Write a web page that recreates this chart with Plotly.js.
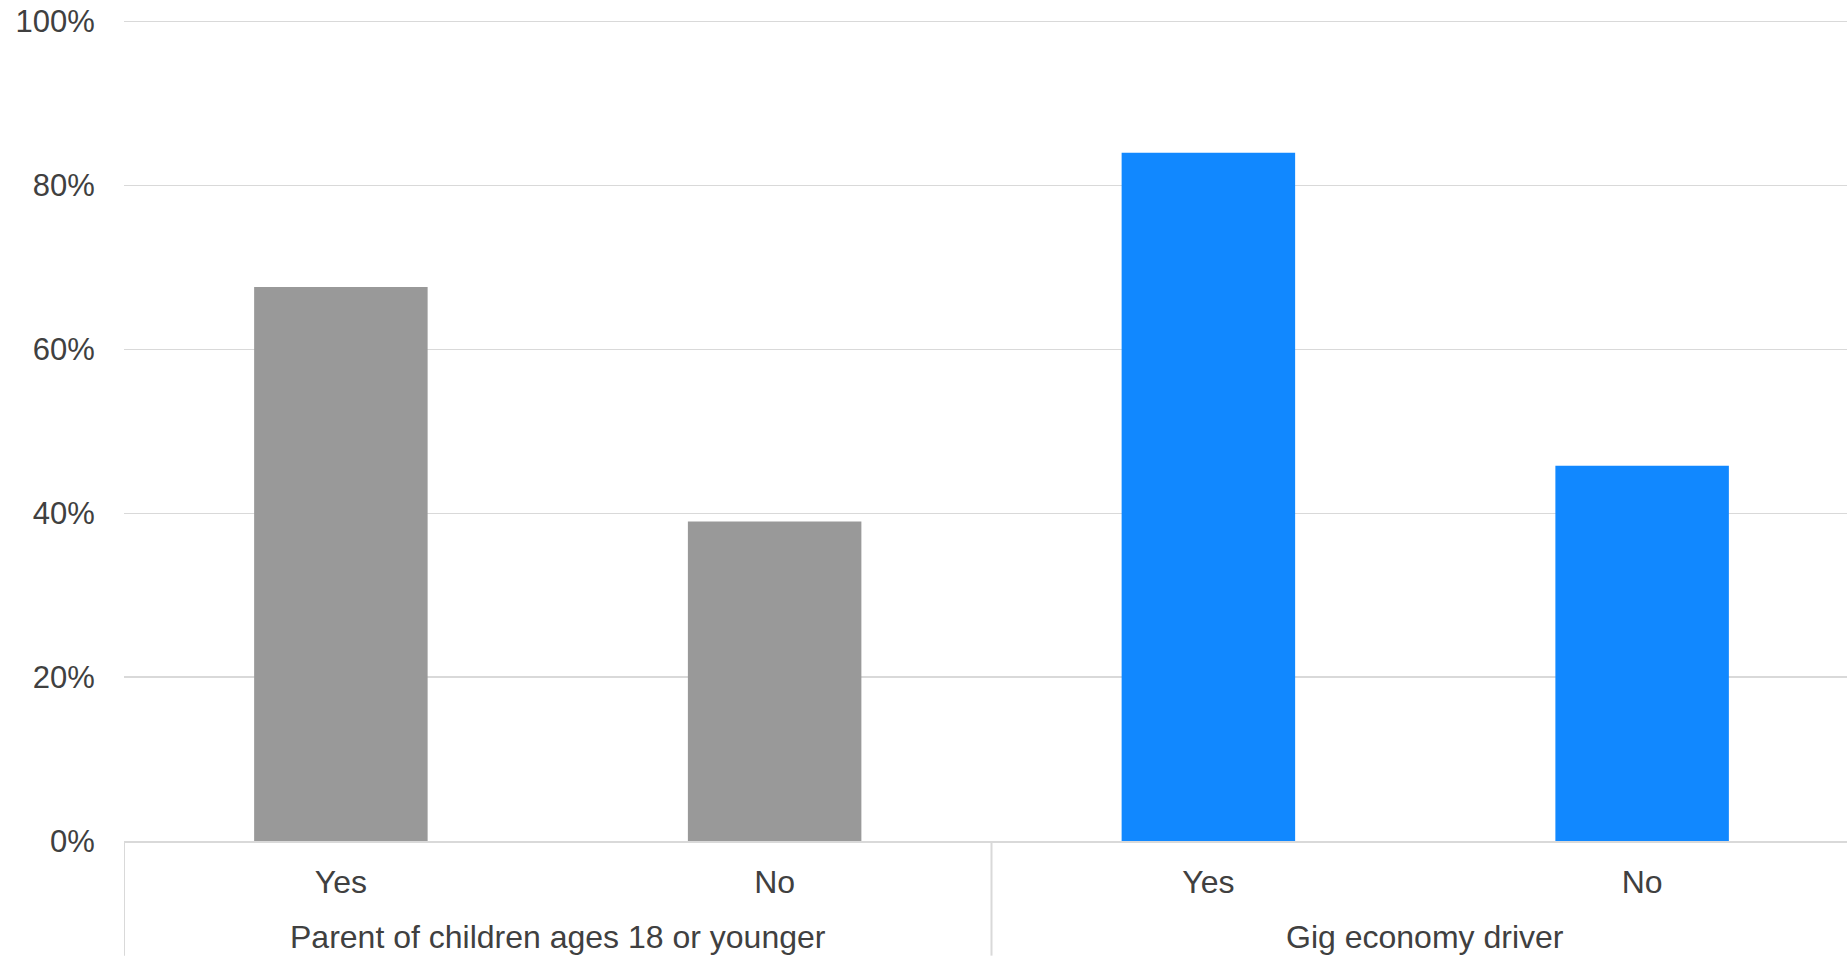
<!DOCTYPE html>
<html>
<head>
<meta charset="utf-8">
<script src="https://cdn.plot.ly/plotly-3.0.1.min.js"></script>
<style>
html,body{margin:0;padding:0;background:#fff;overflow:hidden;}
#chart{width:1859px;height:956px;}
</style>
</head>
<body>
<div id="chart"></div>
<script>
const groups = ["Parent of children ages 18 or younger", "Parent of children ages 18 or younger", "Gig economy driver", "Gig economy driver"];
const answers = ["Yes", "No", "Yes", "No"];
const values = [0.676, 0.39, 0.84, 0.458];
const barColors = ["#999999", "#999999", "#1188ff", "#1188ff"];
const yTickVals = [0, 0.2, 0.4, 0.6, 0.8, 1.0];
const yTickText = ["0%", "20%", "40%", "60%", "80%", "100%"];

const fontFam = "Liberation Sans, Arial, sans-serif";
const textColor = "#404040";
const lineColor = "#d9d9d9";

const idx = answers.map((_, i) => i);

// group label positions and divider boundaries derived from the group arrays
const groupNames = [];
const groupPos = {};
groups.forEach((g, i) => {
  if (!(g in groupPos)) { groupPos[g] = []; groupNames.push(g); }
  groupPos[g].push(i);
});
const boundaries = [-0.5];
for (let i = 1; i < groups.length; i++) {
  if (groups[i] !== groups[i - 1]) boundaries.push(i - 0.5);
}
boundaries.push(groups.length - 0.5);

const plotH = 820;
const bottomY = -(114.5 / plotH);

const annotations = groupNames.map(g => {
  const p = groupPos[g];
  return {
    x: p.reduce((a, b) => a + b, 0) / p.length,
    xref: "x",
    y: -(95.5 / plotH),
    yref: "paper",
    text: g,
    showarrow: false,
    xanchor: "center",
    yanchor: "middle",
    font: {family: fontFam, size: 32, color: textColor}
  };
});

const shapes = boundaries.map(b => ({
  type: "line",
  xref: "x",
  yref: "paper",
  x0: b, x1: b,
  y0: 0, y1: bottomY,
  line: {color: lineColor, width: 2}
}));

const trace = {
  type: "bar",
  x: idx,
  y: values,
  marker: {color: barColors, line: {width: 0}},
  hoverinfo: "none"
};

const layout = {
  width: 1859,
  height: 956,
  margin: {l: 124, r: 0, t: 19.9, b: 114.5, pad: 0},
  paper_bgcolor: "#ffffff",
  plot_bgcolor: "#ffffff",
  bargap: 0.6,
  showlegend: false,
  font: {family: fontFam, size: 31, color: textColor},
  annotations: annotations,
  shapes: shapes,
  xaxis: {
    range: [-0.5, answers.length - 0.5],
    tickvals: idx,
    ticktext: answers,
    showgrid: false,
    showline: true,
    linecolor: lineColor,
    linewidth: 2,
    zeroline: false,
    ticks: "outside",
    ticklen: 12,
    tickcolor: "rgba(0,0,0,0)",
    tickfont: {family: fontFam, size: 32, color: textColor},
    fixedrange: true
  },
  yaxis: {
    range: [0, 1.002],
    tickvals: yTickVals,
    ticktext: yTickText,
    showgrid: true,
    gridcolor: lineColor,
    gridwidth: 1.5,
    zeroline: false,
    showline: false,
    ticks: "outside",
    ticklen: 22,
    tickcolor: "rgba(0,0,0,0)",
    tickfont: {family: fontFam, size: 31, color: textColor},
    fixedrange: true
  }
};

Plotly.newPlot("chart", [trace], layout, {displayModeBar: false, staticPlot: true});
</script>
</body>
</html>
